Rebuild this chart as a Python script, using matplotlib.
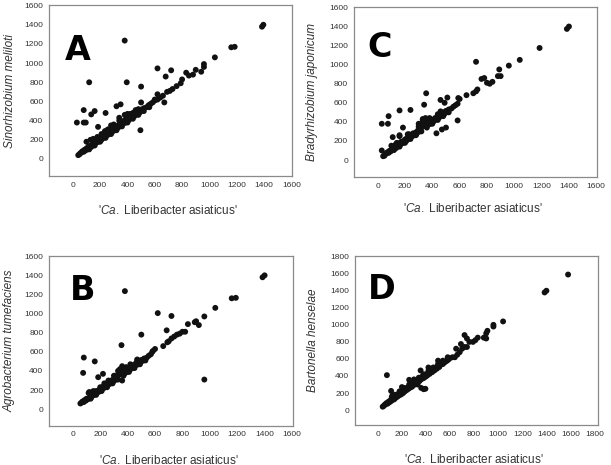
import matplotlib
matplotlib.use("Agg")
import matplotlib.pyplot as plt

plt.rcParams['font.family'] = ['Liberation Sans', 'DejaVu Sans']
plt.rcParams['mathtext.fontset'] = 'custom'
plt.rcParams['mathtext.rm'] = 'Liberation Sans'
plt.rcParams['mathtext.it'] = 'Liberation Sans:italic'

# gene lengths: 'Ca. Liberibacter asiaticus' (x) vs ortholog (y)
a_x = [40, 50, 55, 65, 70, 80, 85, 95, 100, 110,
       115, 120, 130, 135, 145, 150, 160, 165, 170, 180,
       190, 195, 200, 210, 215, 225, 230, 240, 245, 255,
       260, 270, 280, 285, 295, 300, 310, 315, 325, 330,
       340, 345, 355, 360, 370, 380, 385, 395, 400, 410,
       420, 430, 440, 450, 460, 470, 480, 490, 500, 510,
       520, 540, 555, 570, 585, 600, 620, 640, 660, 690,
       710, 730, 760, 790, 800, 830, 850, 880, 900, 940,
       960, 960,
       100, 130, 150, 235, 250, 280, 340, 380, 400, 460,
       480, 500, 600, 620, 210, 300, 440, 560,
       120, 160, 200, 240, 280, 320, 360, 400, 440, 480,
       520, 560, 180, 260, 340, 420,
       30, 80, 95, 80, 120, 135, 160, 185, 240, 320,
       350, 380, 395, 500, 495, 620, 680, 720, 670, 1040,
       1160, 1185, 1385, 1395]
a_y = [40, 50, 60, 70, 80, 75, 95, 90, 110, 105,
       130, 120, 140, 125, 155, 145, 170, 160, 190, 175,
       200, 185, 215, 200, 230, 220, 250, 235, 260, 250,
       280, 265, 290, 275, 310, 295, 330, 310, 345, 325,
       360, 340, 380, 360, 395, 375, 410, 390, 420, 405,
       440, 425, 460, 445, 480, 465, 500, 485, 515, 505,
       530, 540, 560, 575, 590, 610, 620, 640, 660, 700,
       710, 730, 760, 790, 830, 900, 870, 880, 930, 910,
       960, 990,
       180, 200, 210, 290, 300, 350, 430, 460, 470, 510,
       520, 590, 620, 675, 260, 360, 480, 560,
       100, 140, 180, 220, 260, 300, 340, 380, 420, 460,
       500, 540, 230, 310, 400, 470,
       380, 380, 380, 510, 800, 465, 500, 335, 480, 550,
       570, 1235, 800, 755, 300, 945, 860, 925, 590, 1060,
       1165, 1170, 1380, 1400]

b_x = [55, 65, 70, 80, 85, 95, 100, 110, 115, 120,
       130, 135, 145, 150, 160, 165, 170, 180, 190, 195,
       200, 210, 215, 225, 230, 240, 245, 255, 260, 270,
       280, 285, 295, 300, 310, 315, 325, 330, 340, 345,
       355, 360, 370, 380, 385, 395, 400, 410, 420, 430,
       440, 450, 460, 470, 480, 490, 500, 510, 520, 540,
       555, 570, 585, 600, 660, 690, 700, 720, 740, 760,
       780, 800, 820, 840, 890, 900, 920, 960, 100, 120,
       200, 260, 300, 340, 360, 420, 470, 580,
       130, 170, 210, 250, 290, 330, 370, 410, 450, 490,
       530, 150, 230, 310, 390, 470,
       75, 80, 160, 185, 220, 355, 380, 500, 620, 685,
       720, 960, 1040, 1160, 1190, 1385, 1400]
b_y = [60, 70, 80, 75, 95, 90, 110, 105, 170, 120,
       140, 125, 155, 145, 170, 160, 190, 175, 200, 185,
       215, 200, 230, 220, 250, 235, 260, 250, 290, 265,
       300, 275, 310, 295, 330, 310, 345, 400, 360, 420,
       380, 300, 395, 375, 410, 390, 420, 405, 440, 425,
       460, 445, 480, 465, 500, 485, 515, 505, 530, 540,
       560, 575, 610, 630, 660, 700, 710, 740, 760, 780,
       790, 810, 810, 890, 910, 920, 880, 970, 100, 180,
       230, 300, 350, 410, 450, 470, 520, 600,
       110, 150, 190, 230, 270, 310, 350, 390, 430, 470,
       510, 190, 270, 350, 440, 510,
       380, 540, 500, 335, 370, 670, 1235, 780, 1005, 825,
       975, 310, 1060, 1160, 1165, 1380, 1400]

c_x = [40, 50, 55, 65, 70, 80, 85, 95, 100, 110,
       115, 120, 130, 135, 145, 150, 160, 165, 170, 180,
       190, 195, 200, 210, 215, 225, 230, 240, 245, 255,
       260, 270, 280, 285, 295, 300, 310, 315, 325, 330,
       340, 345, 355, 360, 370, 380, 385, 395, 400, 410,
       420, 430, 440, 450, 460, 470, 480, 490, 500, 510,
       520, 540, 555, 570, 585, 600, 650, 700, 720, 730,
       760, 780, 800, 820, 840, 880, 100, 160, 300, 330,
       350, 440, 590,
       120, 160, 200, 240, 280, 320, 360, 400, 440, 480,
       520, 140, 220, 300, 380, 460,
       30, 75, 80, 30, 110, 160, 185, 240, 340, 355,
       460, 490, 510, 500, 470, 430, 585, 720, 890, 900,
       960, 1040, 1185, 1385, 1400]
c_y = [40, 45, 60, 70, 80, 75, 95, 90, 110, 105,
       130, 120, 160, 125, 155, 145, 250, 160, 190, 175,
       200, 185, 215, 200, 230, 220, 270, 235, 260, 250,
       280, 265, 290, 275, 310, 295, 330, 380, 345, 430,
       360, 410, 380, 360, 395, 375, 410, 390, 420, 405,
       440, 425, 460, 445, 480, 465, 500, 485, 515, 505,
       530, 540, 560, 575, 590, 640, 680, 700, 720, 740,
       850, 860, 810, 800, 820, 880, 150, 260, 380, 420,
       440, 480, 650,
       105, 140, 180, 220, 260, 300, 340, 380, 420, 460,
       500, 180, 270, 350, 440, 510,
       380, 380, 460, 100, 240, 520, 340, 525, 580, 700,
       630, 600, 655, 340, 320, 280, 415, 1030, 950, 880,
       990, 1050, 1175, 1375, 1400]

d_x = [40, 50, 55, 65, 70, 80, 85, 95, 100, 110,
       115, 120, 130, 135, 145, 150, 160, 165, 170, 180,
       190, 195, 200, 210, 215, 225, 230, 240, 245, 255,
       260, 270, 280, 285, 295, 300, 310, 315, 325, 330,
       340, 345, 355, 360, 370, 380, 385, 395, 400, 410,
       420, 430, 440, 450, 460, 470, 480, 490, 500, 510,
       520, 540, 555, 570, 585, 600, 620, 640, 660, 680,
       700, 720, 740, 760, 790, 810, 830, 880, 900, 910,
       960, 960, 120, 200, 300, 420, 500,
       140, 180, 220, 260, 300, 340, 380, 420, 460, 500,
       540, 580,
       75, 110, 380, 395, 360, 260, 355, 720, 690, 650,
       740, 900, 1040, 1385, 1400, 1580, 450, 330]
d_y = [40, 50, 60, 70, 80, 75, 95, 90, 110, 105,
       150, 120, 140, 125, 155, 145, 170, 160, 190, 175,
       200, 185, 215, 200, 230, 220, 250, 235, 260, 250,
       280, 265, 290, 275, 310, 295, 330, 310, 345, 325,
       360, 340, 380, 360, 395, 375, 410, 390, 420, 405,
       440, 425, 460, 445, 480, 465, 500, 485, 515, 505,
       530, 540, 560, 575, 590, 610, 620, 620, 650, 680,
       720, 740, 740, 800, 800, 820, 850, 850, 900, 930,
       980, 1000, 170, 270, 360, 500, 580,
       180, 220, 260, 300, 340, 380, 420, 460, 500, 540,
       580, 620,
       410, 225, 245, 250, 260, 355, 465, 880, 775, 720,
       840, 840, 1040, 1380, 1400, 1590, 450, 300]

letters = ['A', 'C', 'B', 'D']
ylabels = ['Sinorhizobium meliloti', 'Bradyrhizobium japonicum',
           'Agrobacterium tumefaciens', 'Bartonella henselae']
xlabel = "'$\\it{Ca.}$ Liberibacter asiaticus'"
ticks_1600 = list(range(0, 1601, 200))
ticks_1800 = list(range(0, 1801, 200))

fig = plt.figure(figsize=(6.11, 4.65), dpi=100)

# [left, bottom, width, height], xlim, ylim, ticks, letter pos
panels = [
    ([0.080, 0.621, 0.398, 0.368], (-175, 1605), (-180, 1605), ticks_1600, (0.066, 0.678), a_x, a_y),
    ([0.579, 0.619, 0.398, 0.366], (-175, 1605), (-180, 1605), ticks_1600, (0.056, 0.708), c_x, c_y),
    ([0.080, 0.084, 0.399, 0.366], (-175, 1605), (-175, 1605), ticks_1600, (0.086, 0.739), b_x, b_y),
    ([0.581, 0.086, 0.398, 0.363], (-190, 1830), (-175, 1805), ticks_1800, (0.055, 0.747), d_x, d_y),
]
ylab_px = [10, 312, 10, 313]
xlab_py = [210, 209, 460, 459]

for i, (rect, xl, yl, tk, lp, xs, ys) in enumerate(panels):
    ax = fig.add_axes(rect)
    ax.scatter(xs, ys, s=18, c='#111111', edgecolors='none', zorder=3)
    ax.set_xlim(*xl)
    ax.set_ylim(*yl)
    ax.set_xticks(tk)
    ax.set_yticks(tk)
    ax.tick_params(length=0, labelsize=6, labelcolor='#333333', pad=4)
    for sp in ax.spines.values():
        sp.set_color('#8a8a8a')
        sp.set_linewidth(0.9)
    ax.text(lp[0], lp[1], letters[i], transform=ax.transAxes, fontsize=24,
            fontweight='bold', family='DejaVu Sans', va='baseline', ha='left')
    # axis titles
    bb = ax.get_position()
    fig.text(ylab_px[i] / 611, bb.y0 + bb.height / 2, ylabels[i], rotation=90,
             fontsize=8.5, style='italic', color='#333333', ha='center', va='center')
    fig.text(bb.x0 + bb.width * 0.49, 1 - xlab_py[i] / 465, xlabel,
             fontsize=8.5, color='#333333', ha='center', va='center')

fig.savefig('out.png', dpi=100)
